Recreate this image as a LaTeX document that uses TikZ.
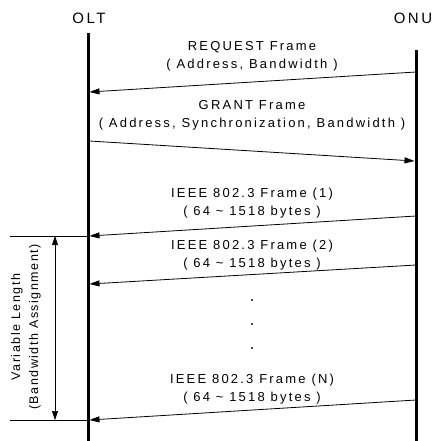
\documentclass[tikz,border=0pt]{standalone}
\usepackage{fontspec}
\setmainfont{Liberation Sans}[LetterSpace=17]
\newfontfamily\vfont{Liberation Sans}[LetterSpace=12]
\usetikzlibrary{arrows.meta}
\begin{document}
\begin{tikzpicture}[x=1pt,y=-1pt,
  lifeline/.style={line width=3pt},
  msg/.style={line width=0.8pt,-{Triangle[length=10pt,width=6pt]}},
  lbl/.style={font=\fontsize{13}{18}\selectfont,align=center,inner sep=0pt},
  dim/.style={line width=0.6pt},
  dimarrow/.style={line width=0.6pt,{Triangle[length=9pt,width=6pt]}-{Triangle[length=9pt,width=6pt]}}]
\useasboundingbox (0,0) rectangle (435,441);
% lifelines
\coordinate (oltTop) at (88,33);
\coordinate (oltBot) at (88,441);
\coordinate (onuTop) at (416,50);
\coordinate (onuBot) at (416,441);
\draw[lifeline] (oltTop) -- (oltBot);
\draw[lifeline] (onuTop) -- (onuBot);
\node[lbl,font=\fontsize{15}{18}\selectfont] (olt) at (89,18) {OLT};
\node[lbl,font=\fontsize{15}{18}\selectfont] (onu) at (413,18) {ONU};
% message endpoints
\coordinate (r1) at (416,72);   \coordinate (l1) at (89.5,92);
\coordinate (l2) at (89.5,141); \coordinate (r2) at (414.5,161);
\coordinate (r3) at (416,216);  \coordinate (l3) at (89.5,236);
\coordinate (r4) at (416,265);  \coordinate (l4) at (89.5,284);
\coordinate (r5) at (416,400);  \coordinate (l5) at (89.5,420);
\draw[msg] (r1) -- (l1);
\draw[msg] (l2) -- (r2);
\draw[msg] (r3) -- (l3);
\draw[msg] (r4) -- (l4);
\draw[msg] (r5) -- (l5);
% labels
\node[lbl] (t1) at (252,56) {REQUEST Frame\\( Address, Bandwidth )};
\node[lbl] (t2) at (252,115) {GRANT Frame\\( Address, Synchronization, Bandwidth )};
\node[lbl] (t3) at (252,203) {IEEE 802.3 Frame (1)\\( 64 \char"007E{} 1518 bytes )};
\node[lbl] (t4) at (252,255) {IEEE 802.3 Frame (2)\\( 64 \char"007E{} 1518 bytes )};
\node[lbl] (t5) at (252,389) {IEEE 802.3 Frame (N)\\( 64 \char"007E{} 1518 bytes )};
% dots
\foreach \yy/\nm in {300/d1,324/d2,348/d3}
  \fill (252,\yy) circle (1.1pt) coordinate (\nm);
% dimension
\coordinate (h1a) at (10,236); \coordinate (h2a) at (10,420);
\coordinate (h1b) at (87,236); \coordinate (h2b) at (87,420);
\draw[dim] (h1a) -- (h1b);
\draw[dim] (h2a) -- (h2b);
\coordinate (v1) at (55,236); \coordinate (v2) at (55,420);
\draw[dimarrow] (v1) -- (v2);
\node[lbl,font=\vfont\fontsize{12.5}{18}\selectfont,rotate=90] (vl) at (26,327) {Variable Length\\(Bandwidth Assignment)};
\end{tikzpicture}
\end{document}
